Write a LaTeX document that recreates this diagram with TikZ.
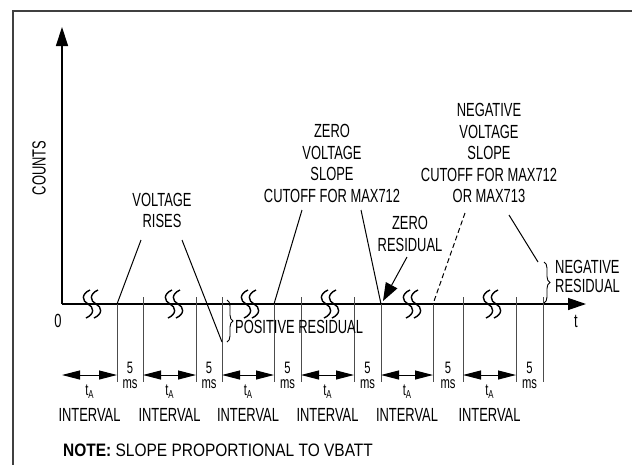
\documentclass[tikz,border=0pt]{standalone}
\usepackage{fontspec}
\setmainfont{Liberation Sans}[FakeStretch=0.68]
\newfontfamily\notefont{Liberation Sans}[FakeStretch=0.86]
\usetikzlibrary{arrows.meta,calc,decorations.pathreplacing,positioning}

\tikzset{
  lbl/.style={inner sep=0pt,font=\fontsize{19}{21.5}\selectfont,align=center},
  small/.style={inner sep=0pt,font=\fontsize{16.5}{15}\selectfont,align=center},
  axisline/.style={line width=1.3pt},
  tick/.style={line width=1pt,black!70},
  slope/.style={line width=1pt},
  brace/.style={decorate,decoration={brace,amplitude=6pt},line width=0.9pt},
  span/.style={line width=1pt,{Triangle[length=18pt,width=9pt]}-{Triangle[length=18pt,width=9pt]}},
  squig/.style={line width=1.4pt},
}

\begin{document}
\begin{tikzpicture}[x=1pt,y=-1pt]

  \useasboundingbox (0,0) rectangle (632,464);
  \draw[line width=1.8pt,black!75] (13,470) |- (640,11);

  % axes
  \coordinate (O) at (62,304);
  \draw[axisline,-{Triangle[length=19pt,width=12pt]}] (O) -- (62,27);
  \draw[axisline,-{Triangle[length=18pt,width=12pt]}] (O) -- (586,304);
  \node[lbl] (zero) at (58,321) {0};
  \node[lbl] (t) at (576,321) {t};
  \node[lbl,rotate=90] (counts) at (39,168) {COUNTS};

  % interval boundaries
  \foreach \i/\x in {1/117,2/143,3/196,4/222,5/274,6/301,7/354,8/381,9/433,10/463,11/516,12/543}
    \coordinate (k\i) at (\x,304);
  \foreach \i in {1,5,8,9}
    \draw[tick] (k\i) -- ++(0,78);
  \foreach \i in {2,3,4,6,7,10,11,12}
    \draw[tick] ($(k\i)+(0,-7)$) -- ++(0,85);

  % t_A spans
  \foreach \a/\b [count=\n] in {O/k1,k2/k3,k4/k5,k6/k7,k8/k9,k10/k11} {
    \draw[span] ($(\a)+(0,71)$) -- ($(\b)+(0,71)$);
    \node[small,anchor=base] (ta\n) at ($(\a)!0.5!(\b)+(0,91)$)
      {t\raisebox{-3pt}{\fontsize{11.5}{12}\selectfont A}};
    \node[lbl,anchor=base] (iv\n) at ($(\a)!0.5!(\b)+(0,117)$) {INTERVAL};
  }
  % 5 ms gaps
  \foreach \a/\b [count=\n] in {k1/k2,k3/k4,k5/k6,k7/k8,k9/k10,k11/k12}
    \node[small] (ms\n) at ($(\a)!0.5!(\b)+(0,71.5)$) {5\\ms};

  % breaks in the time axis
  \foreach \x in {92,174,250,330,412,492}
    \foreach \d in {-4,4}
      \draw[squig] (\x+\d+2,290) .. controls (\x+\d-7,294) and (\x+\d-6,301) .. (\x+\d,304)
        .. controls (\x+\d+6,307) and (\x+\d+7,314) .. (\x+\d-2,318);

  % labels
  \node[lbl] (rises) at (162,210.5) {VOLTAGE\\RISES};
  \node[lbl] (zcut) at (332,163.5) {ZERO\\VOLTAGE\\SLOPE\\CUTOFF FOR MAX712};
  \node[lbl] (ncut) at (489,153) {NEGATIVE\\VOLTAGE\\SLOPE\\CUTOFF FOR MAX712\\OR MAX713};
  \node[lbl] (zres) at (410,234) {ZERO\\RESIDUAL};
  \node[lbl,anchor=west,align=left,font=\fontsize{19}{19}\selectfont] (nres) at (555,276.5) {NEGATIVE\\RESIDUAL};
  \node[lbl,anchor=west] (pres) at (235,326.5) {POSITIVE RESIDUAL};
  \node[lbl,anchor=base west,font=\notefont\fontsize{18}{20}\selectfont] (note) at (63,456.5)
    {\textbf{NOTE:} SLOPE PROPORTIONAL TO VBATT};

  % slopes
  \coordinate (vr1) at (141,240);
  \coordinate (vr2) at (182,240);
  \coordinate (pr) at (222,342);
  \coordinate (zv1) at (302,210);
  \coordinate (zv2) at (361,210);
  \coordinate (nv1) at (465,213);
  \coordinate (nv2) at (509,215);
  \coordinate (nr) at (538,262);
  \coordinate (zr1) at (407,257);
  \coordinate (zr2) at (383,301);

  \draw[slope] (k1) -- (vr1);
  \draw[slope] (vr2) -- (pr);
  \draw[slope] (k5) -- (zv1);
  \draw[slope] (zv2) -- (k8);
  \draw[slope,dash pattern=on 5pt off 3pt] (nv1) -- (k9);
  \draw[slope] (nv2) -- (nr);
  \draw[slope,-{Triangle[length=18pt,width=13pt]}] (zr1) -- (zr2);

  % residuals
  \draw[brace] (227,300) -- (227,342);
  \draw[brace] (544,262) -- (544,303);

\end{tikzpicture}
\end{document}
